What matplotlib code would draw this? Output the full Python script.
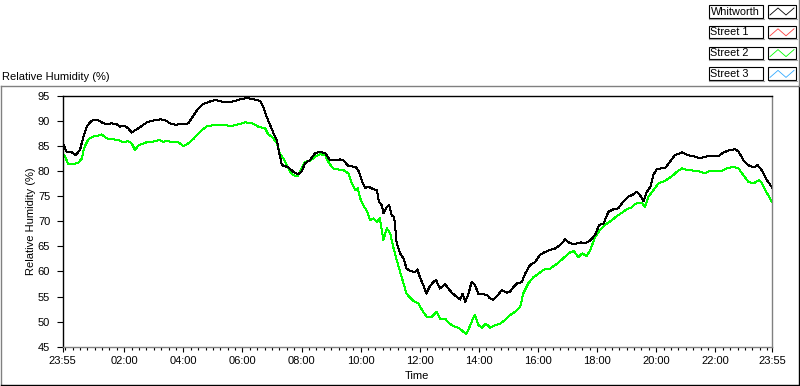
import matplotlib
matplotlib.use("Agg")
import matplotlib.pyplot as plt
from matplotlib.patches import Rectangle

plt.rcParams['font.family'] = ['Liberation Sans', 'DejaVu Sans']
plt.rcParams['font.size'] = 8

# minutes after 23:55 and relative humidity (%)
wh_min = [0, 8, 18, 26, 35, 42, 49, 59, 69, 79, 89, 99, 110, 116, 126, 133, 140, 150, 160, 171,
          184, 198, 208, 218, 228, 242, 255, 265, 275, 285, 299, 309, 323, 336, 350, 360, 374, 387,
          401, 407, 414, 421, 428, 435, 439, 445, 452, 458, 468, 478, 485, 492, 502, 512, 522, 533,
          543, 553, 563, 570, 580, 594, 600, 607, 614, 621, 631, 638, 642, 648, 651, 658, 663, 668,
          673, 678, 685, 692, 698, 705, 715, 720, 725, 732, 738, 744, 752, 758, 766, 776, 783, 790,
          800, 807, 812, 817, 824, 830, 837, 844, 854, 861, 868, 874, 884, 891, 902, 908, 915, 922,
          932, 939, 949, 959, 969, 979, 990, 1000, 1010, 1020, 1030, 1041, 1051, 1061, 1071, 1081,
          1089, 1098, 1108, 1118, 1128, 1138, 1148, 1159, 1165, 1172, 1179, 1186, 1193, 1199, 1206,
          1216, 1223, 1233, 1243, 1257, 1270, 1284, 1294, 1304, 1318, 1331, 1341, 1351, 1365, 1372,
          1382, 1392, 1402, 1411, 1419, 1430, 1440]
wh_rh = [85.6, 83.9, 83.8, 83.2, 84.2, 86.9, 89.0, 90.1, 90.3, 89.75, 89.35, 89.55, 89.35, 88.9,
         89.0, 88.55, 87.7, 88.35, 89.0, 89.75, 90.1, 90.35, 90.2, 89.55, 89.3, 89.35, 89.55, 91.0,
         92.5, 93.4, 93.9, 94.2, 93.9, 93.75, 94.0, 94.35, 94.6, 94.35, 94.0, 92.9, 90.9, 89.2,
         87.55, 86.2, 83.9, 81.2, 81.0, 80.75, 79.9, 79.4, 79.9, 81.6, 82.2, 83.55, 83.9, 83.55,
         82.2, 82.2, 82.35, 82.2, 81.0, 80.9, 80.2, 78.2, 76.6, 76.9, 76.4, 76.2, 73.9, 73.2, 71.6,
         72.9, 73.2, 71.2, 70.9, 65.6, 63.6, 62.6, 60.6, 60.1, 59.9, 60.4, 58.9, 57.3, 55.6, 56.8,
         57.9, 58.3, 56.6, 57.5, 56.6, 55.75, 54.95, 54.4, 55.6, 53.9, 55.6, 57.9, 57.3, 55.5, 55.5,
         55.3, 54.6, 54.4, 55.3, 56.3, 55.75, 55.95, 56.9, 57.6, 57.9, 59.6, 61.3, 61.9, 63.3, 63.9,
         64.3, 64.6, 65.3, 66.4, 65.6, 65.5, 65.8, 65.65, 66.2, 67.3, 69.3, 69.6, 71.9, 72.4, 72.6,
         73.9, 74.9, 75.4, 75.9, 75.25, 74.0, 75.9, 76.9, 79.2, 80.4, 80.6, 80.6, 81.9, 83.2, 83.75,
         83.2, 82.9, 82.55, 82.9, 83.1, 83.0, 83.7, 84.1, 84.4, 83.9, 82.2, 81.2, 80.75, 81.2, 80.2,
         78.2, 76.75]

s2_min = [0, 5, 11, 22, 32, 39, 43, 52, 62, 72, 79, 89, 103, 113, 123, 133, 140, 147, 154, 164,
          174, 184, 196, 204, 214, 225, 235, 245, 255, 265, 279, 292, 306, 319, 333, 343, 350, 360,
          370, 384, 397, 411, 417, 426, 435, 441, 448, 455, 462, 468, 477, 485, 492, 502, 512, 522,
          533, 539, 549, 560, 570, 580, 587, 594, 599, 604, 610, 617, 624, 631, 638, 644, 651, 658,
          665, 671, 678, 685, 692, 698, 705, 712, 722, 732, 739, 749, 759, 766, 776, 786, 793, 803,
          810, 819, 826, 833, 837, 844, 851, 859, 868, 878, 888, 898, 908, 918, 929, 935, 945, 956,
          966, 976, 990, 1003, 1016, 1023, 1030, 1037, 1047, 1054, 1064, 1071, 1081, 1091, 1101,
          1115, 1125, 1135, 1145, 1155, 1162, 1169, 1176, 1182, 1189, 1199, 1209, 1223, 1237, 1247,
          1257, 1270, 1284, 1294, 1304, 1314, 1328, 1338, 1348, 1362, 1372, 1382, 1392, 1402, 1413,
          1419, 1430, 1440]
s2_rh = [83.4, 82.9, 81.4, 81.4, 81.7, 82.55, 84.55, 86.35, 86.9, 87.1, 87.35, 86.55, 86.35, 86.2,
         85.75, 86.0, 85.55, 84.2, 85.2, 85.55, 85.9, 85.9, 86.2, 85.9, 86.0, 85.75, 85.75, 85.0,
         85.55, 86.4, 87.9, 88.9, 89.2, 89.2, 89.15, 89.0, 89.2, 89.4, 89.75, 89.55, 88.9, 88.55,
         87.4, 86.75, 85.55, 83.4, 82.55, 81.2, 79.9, 79.2, 79.0, 80.55, 81.9, 82.0, 82.9, 83.4,
         83.2, 81.9, 80.55, 80.35, 80.2, 79.55, 77.55, 76.2, 76.6, 74.6, 73.2, 72.2, 70.2, 70.6,
         69.9, 70.6, 66.25, 68.6, 67.6, 64.9, 62.3, 59.9, 57.6, 55.6, 54.8, 54.15, 53.6, 51.95,
         50.95, 50.95, 51.95, 50.6, 50.6, 49.6, 49.1, 48.8, 48.3, 47.5, 48.95, 50.6, 51.3, 49.3,
         48.8, 49.6, 48.8, 49.3, 49.6, 50.3, 51.3, 51.95, 52.95, 55.6, 57.6, 58.9, 59.55, 60.35,
         60.6, 61.5, 62.6, 63.25, 63.8, 64.1, 62.9, 63.6, 63.1, 64.3, 66.9, 68.3, 69.3, 70.25, 71.05,
         71.7, 72.4, 72.8, 73.45, 73.7, 73.7, 72.9, 74.9, 76.2, 77.55, 78.1, 79.0, 79.9, 80.55, 80.2,
         80.1, 79.9, 79.55, 80.1, 80.1, 80.1, 80.55, 80.9, 80.55, 79.2, 77.9, 77.55, 78.2, 77.7,
         75.6, 73.9]

x_ticks = [0, 125, 245, 365, 485, 605, 725, 845, 965, 1085, 1205, 1325, 1440]
x_labels = ["23:55", "02:00", "04:00", "06:00", "08:00", "10:00", "12:00", "14:00",
            "16:00", "18:00", "20:00", "22:00", "23:55"]
y_ticks = [45, 50, 55, 60, 65, 70, 75, 80, 85, 90, 95]

legend_names = ["Whitworth", "Street 1", "Street 2", "Street 3"]
legend_colors = ["#000000", "#ff4040", "#00ff00", "#33aaff"]

fig = plt.figure(figsize=(8, 3.86), dpi=100)

# background layer in pixel coordinates for the frame and legend
bg = fig.add_axes([0, 0, 1, 1])
bg.set_xlim(0, 800)
bg.set_ylim(386, 0)
bg.axis('off')
bg.plot([0.5, 798], [86, 86], color="#808080", lw=1)
bg.plot([0.5, 0.5], [86, 384.5], color="#808080", lw=1)
bg.plot([0.5, 798.5], [384.5, 384.5], color="#000000", lw=1)
bg.plot([798.5, 798.5], [86, 384.5], color="#000000", lw=1)
bg.plot([799, 799], [0, 86], color="#808080", lw=1)
bg.text(2, 77, "Relative Humidity (%)", ha='left', va='center')

for i, (name, col) in enumerate(zip(legend_names, legend_colors)):
    top = 5 + i * 20.8
    bg.add_patch(Rectangle((708.5, top), 54, 12.5, fill=False, ec="black", lw=0.8))
    bg.plot([709, 763.5], [top + 13.5, top + 13.5], color="#a0a0a0", lw=0.8)
    bg.text(710.5, top + 6.6, name, ha='left', va='center', fontsize=7.8)
    bg.add_patch(Rectangle((768, top), 27.5, 12.5, fill=False, ec="black", lw=0.8))
    bg.plot([768.5, 796.5], [top + 13.5, top + 13.5], color="#a0a0a0", lw=0.8)
    bg.plot([770, 778, 786, 794], [top + 10, top + 3, top + 10, top + 3], color=col, lw=0.6)

ax = fig.add_axes([62.7 / 800, (386 - 346.7) / 386, (772 - 62.7) / 800, (346.7 - 96) / 386])
ax.plot(s2_min, s2_rh, color="#00ff00", lw=0.72, antialiased=False)
ax.plot(wh_min, wh_rh, color="#000000", lw=0.72, antialiased=False)

ax.set_xlim(0, 1440)
ax.set_ylim(45, 95)
ax.set_xticks(x_ticks)
ax.set_xticklabels(x_labels)
ax.set_xticks(list(range(5, 1440, 15)), minor=True)
ax.set_yticks(y_ticks)
ax.tick_params(axis='x', which='major', direction='out', length=3.5, width=0.8, pad=3)
ax.tick_params(axis='x', which='minor', direction='out', length=2, width=0.8)
ax.tick_params(axis='y', which='major', direction='out', length=4, width=0.8, pad=5)

ax.spines['left'].set_color("black")
ax.spines['top'].set_color("black")
ax.spines['right'].set_color("#808080")
ax.spines['bottom'].set_color("#808080")
for s in ax.spines.values():
    s.set_linewidth(1)

ax.set_xlabel("Time", labelpad=4)
ax.set_ylabel("Relative Humidity (%)", labelpad=1)

fig.savefig("out.png", dpi=100)
